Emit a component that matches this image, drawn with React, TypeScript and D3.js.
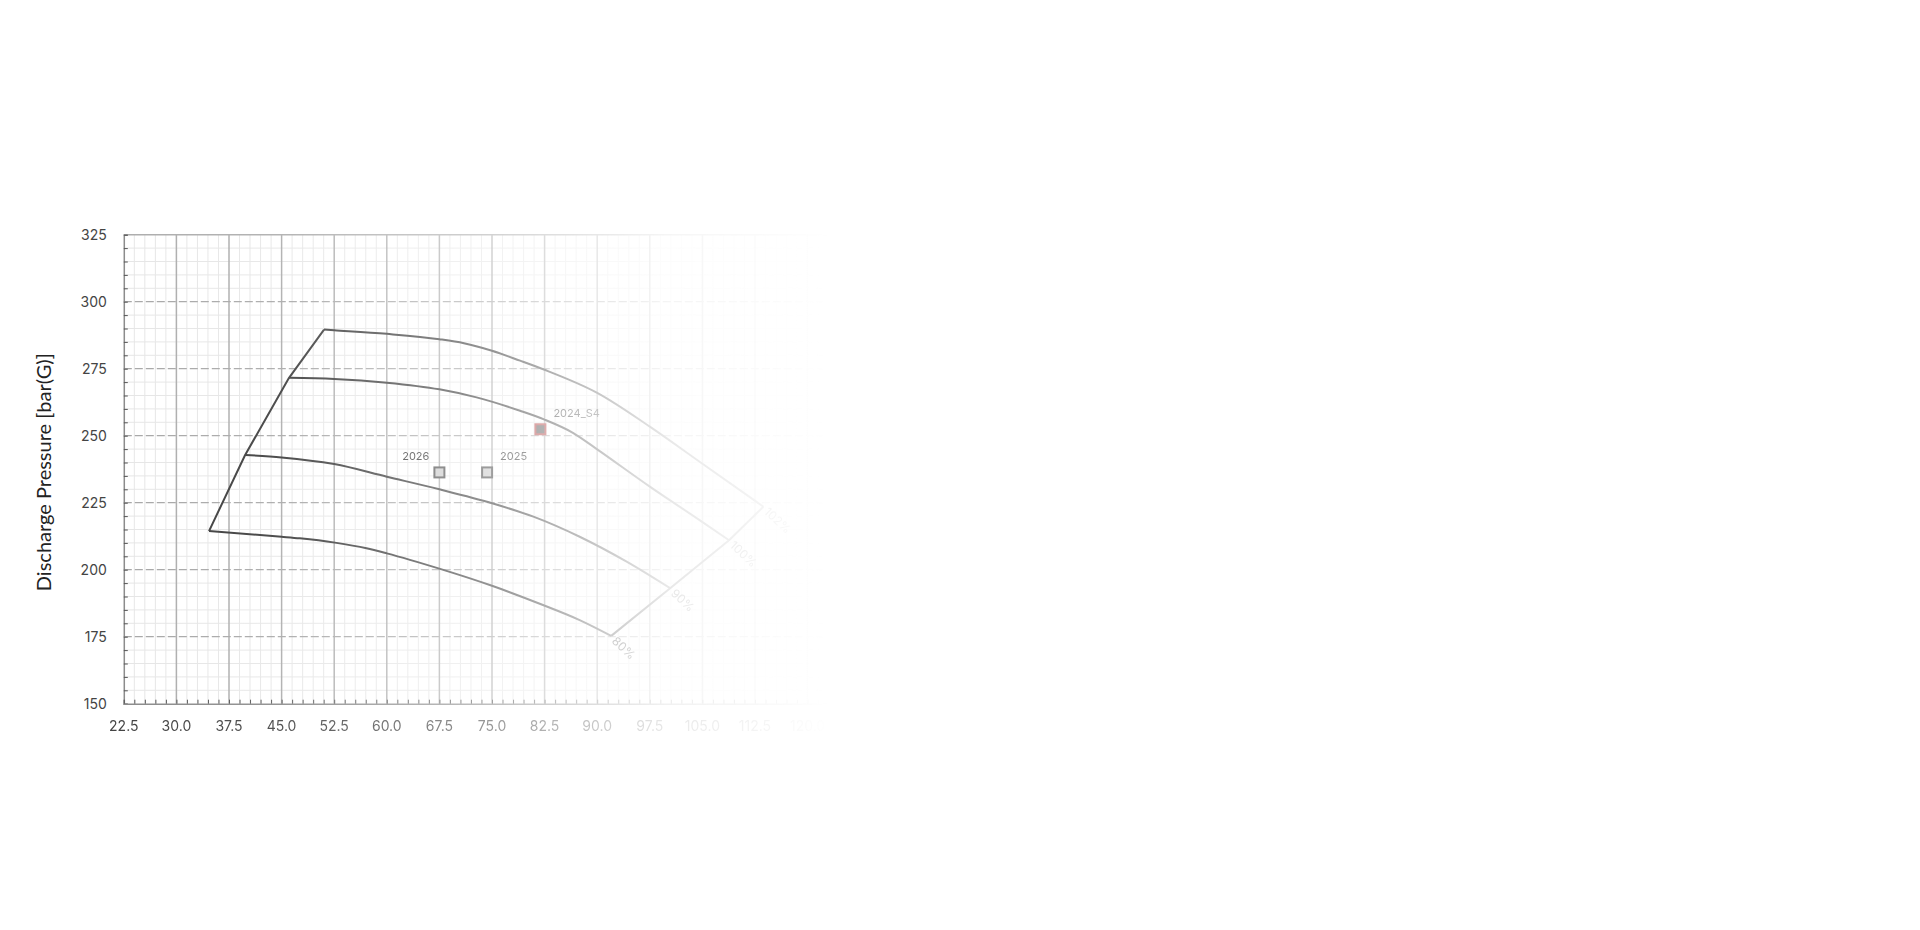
import { useEffect, useRef } from 'react';
import * as d3 from 'd3';

type Pt = [number, number];

// compressor map: flow vs discharge pressure, one line per speed
const SPEED_LABELS = ['80%', '90%', '100%', '102%'];

const SPEED_80: Pt[] = [
  [34.65, 214.4], [45, 212.3], [47.6, 211.7], [52.6, 210.1], [57.1, 208.0], [60, 206.1],
  [67.6, 200.3], [75.1, 193.9], [81.9, 187.2], [87.5, 181.2], [92, 175.3],
];
const SPEED_90: Pt[] = [
  [39.8, 242.8], [45, 241.9], [52.5, 239.4], [60, 234.7], [67.5, 230.0], [75, 224.8],
  [80.9, 219.8], [87.5, 212.3], [94.2, 203.0], [100.4, 193.1],
];
const SPEED_100: Pt[] = [
  [46.06, 271.6], [52.5, 271.2], [60, 269.8], [67.5, 267.3], [72.8, 264.3], [79, 259.3],
  [82.5, 256.0], [86.6, 251.0], [90, 244.9], [97.5, 231.0], [104.6, 218.5], [108.8, 211.0],
];
const SPEED_102: Pt[] = [
  [51.05, 289.6], [52.5, 289.35], [60, 288.0], [67.5, 286.0], [71, 284.5], [75, 281.7],
  [79, 278.0], [82.5, 274.6], [90, 266.0], [97.5, 253.4], [104.6, 240.3], [113.7, 223.5],
];
const SPEED_LINES = [SPEED_80, SPEED_90, SPEED_100, SPEED_102];

const POINT_NAMES = ['2026', '2025', '2024_S4'];
const POINT_FLOW = [67.5, 74.3, 81.9];
const POINT_PRESSURE = [236.3, 236.3, 252.4];

const X_TICKS = [22.5, 30, 37.5, 45, 52.5, 60, 67.5, 75, 82.5, 90, 97.5, 105, 112.5, 120, 127.5];
const Y_TICKS = [150, 175, 200, 225, 250, 275, 300, 325];

const POINT_STYLE: Record<string, { stroke: string; fill: string; side: 'left' | 'right' }> = {
  '2026': { stroke: '#4e4e4e', fill: '#cacaca', side: 'left' },
  '2025': { stroke: '#4e4e4e', fill: '#cacaca', side: 'right' },
  '2024_S4': { stroke: '#b03a3a', fill: '#4a4a4a', side: 'right' },
};

export default function App() {
  const svgRef = useRef<SVGSVGElement>(null);

  useEffect(() => {
    if (!svgRef.current) return;
    const svg = d3.select(svgRef.current);
    svg.selectAll('*').remove();

    const x = d3.scaleLinear().domain([22.5, 127.5]).range([123.8, 860.2]);
    const y = d3.scaleLinear().domain([150, 325]).range([703.7, 234.7]);
    const [x0, x1] = x.range();
    const [y0, y1] = y.range();

    const defs = svg.append('defs');
    const grad = defs.append('linearGradient')
      .attr('id', 'fade-grad')
      .attr('gradientUnits', 'userSpaceOnUse')
      .attr('x1', 124).attr('y1', 0).attr('x2', 830).attr('y2', 0);
    grad.selectAll('stop')
      .data([
        { o: 0, a: 1 }, { o: 0.224, a: 0.91 }, { o: 0.3725, a: 0.73 }, { o: 0.521, a: 0.55 },
        { o: 0.67, a: 0.29 }, { o: 0.769, a: 0.12 }, { o: 0.894, a: 0.06 }, { o: 1, a: 0 },
      ])
      .join('stop')
      .attr('offset', (d) => d.o)
      .attr('stop-color', '#fff')
      .attr('stop-opacity', (d) => d.a);
    defs.append('mask')
      .attr('id', 'fade-mask')
      .attr('maskUnits', 'userSpaceOnUse')
      .attr('x', 0).attr('y', 0).attr('width', 1920).attr('height', 930)
      .append('rect')
      .attr('width', 1920).attr('height', 930)
      .attr('fill', 'url(#fade-grad)');

    const g = svg.append('g').attr('mask', 'url(#fade-mask)');

    // minor grid
    const isMajorX = (v: number) => X_TICKS.some((t) => Math.abs(t - v) < 1e-6);
    const minorX = d3.range(22.5, 127.5 + 1e-6, 1.5).filter((v) => !isMajorX(v));
    const minorY = d3.range(150, 325, 5).filter((v) => v % 25 !== 0);

    g.append('g').selectAll('line').data(minorX).join('line')
      .attr('x1', (d) => x(d)).attr('x2', (d) => x(d))
      .attr('y1', y0).attr('y2', y1)
      .attr('stroke', '#e6e6e6').attr('stroke-width', 1);
    g.append('g').selectAll('line').data(minorY).join('line')
      .attr('x1', x0).attr('x2', x1)
      .attr('y1', (d) => y(d)).attr('y2', (d) => y(d))
      .attr('stroke', '#e6e6e6').attr('stroke-width', 1);

    // major grid
    g.append('g').selectAll('line').data(X_TICKS.slice(1)).join('line')
      .attr('x1', (d) => x(d)).attr('x2', (d) => x(d))
      .attr('y1', y0).attr('y2', y1)
      .attr('stroke', '#adadad').attr('stroke-width', 1.5);
    g.append('g').selectAll('line').data(Y_TICKS.slice(1, -1)).join('line')
      .attr('x1', x0).attr('x2', x1)
      .attr('y1', (d) => y(d)).attr('y2', (d) => y(d))
      .attr('stroke', '#a8a8a8').attr('stroke-width', 1.3)
      .attr('stroke-dasharray', '8 3');
    g.append('line')
      .attr('x1', x0).attr('x2', x1).attr('y1', y1).attr('y2', y1)
      .attr('stroke', '#adadad').attr('stroke-width', 1.5);

    // axes
    const yAxis = g.append('g')
      .attr('transform', `translate(${x0},0)`)
      .call(d3.axisRight(y).tickValues(d3.range(150, 326, 5)).tickSize(4).tickFormat(() => ''));
    const xAxis = g.append('g')
      .attr('transform', `translate(0,${y0})`)
      .call(d3.axisTop(x).tickValues(d3.range(22.5, 127.5 + 1e-6, 1.5)).tickSize(4).tickFormat(() => ''));
    [yAxis, xAxis].forEach((a) => {
      a.select('.domain').attr('stroke', '#8c8c8c').attr('stroke-width', 1.5);
      a.selectAll('.tick line').attr('stroke', '#555').attr('stroke-width', 1);
    });

    g.append('g').selectAll('text').data(X_TICKS).join('text')
      .attr('x', (d) => x(d))
      .attr('y', y0 + 22)
      .attr('text-anchor', 'middle')
      .attr('dominant-baseline', 'central')
      .attr('font-family', 'Inter, sans-serif')
      .attr('font-size', 14)
      .attr('fill', '#444')
      .text((d) => d.toFixed(1));

    svg.append('g').selectAll('text').data(Y_TICKS).join('text')
      .attr('x', x0 - 17)
      .attr('y', (d) => y(d))
      .attr('text-anchor', 'end')
      .attr('dominant-baseline', 'central')
      .attr('font-family', 'Inter, sans-serif')
      .attr('font-size', 14)
      .attr('fill', '#444')
      .text((d) => String(d));

    svg.append('text')
      .attr('transform', `translate(43,${(y0 + y1) / 2 + 3}) rotate(-90)`)
      .attr('text-anchor', 'middle')
      .attr('dominant-baseline', 'central')
      .attr('font-family', 'Lato, sans-serif')
      .attr('font-size', 20)
      .attr('fill', '#222')
      .text('Discharge Pressure [bar(G)]');

    // speed lines + surge / choke boundaries
    const smooth = d3.line<Pt>().x((d) => x(d[0])).y((d) => y(d[1])).curve(d3.curveMonotoneX);
    const straight = d3.line<Pt>().x((d) => x(d[0])).y((d) => y(d[1]));
    const lineColor = '#3d3d3d';
    SPEED_LINES.forEach((pts) => {
      g.append('path').datum(pts)
        .attr('fill', 'none').attr('stroke', lineColor).attr('stroke-width', 2)
        .attr('stroke-linejoin', 'round')
        .attr('d', smooth);
    });
    const surge = SPEED_LINES.map((pts) => pts[0]);
    const choke = SPEED_LINES.map((pts) => pts[pts.length - 1]);
    [surge, choke].forEach((pts) => {
      g.append('path').datum(pts)
        .attr('fill', 'none').attr('stroke', lineColor).attr('stroke-width', 2)
        .attr('stroke-linejoin', 'round')
        .attr('d', straight);
    });

    g.append('g').selectAll('text').data(choke).join('text')
      .attr('transform', (d) => `translate(${x(d[0])},${y(d[1])}) rotate(43)`)
      .attr('x', 4)
      .attr('dominant-baseline', 'central')
      .attr('font-family', 'Inter, sans-serif')
      .attr('font-size', 12)
      .attr('fill', '#333')
      .text((_d, i) => SPEED_LABELS[i]);

    // operating points
    const pts = POINT_NAMES.map((name, i) => ({ name, f: POINT_FLOW[i], p: POINT_PRESSURE[i] }));
    const pg = g.append('g');
    pg.selectAll('rect').data(pts).join('rect')
      .attr('x', (d) => x(d.f) - 5)
      .attr('y', (d) => y(d.p) - 5)
      .attr('width', 10).attr('height', 10)
      .attr('fill', (d) => POINT_STYLE[d.name].fill)
      .attr('stroke', (d) => POINT_STYLE[d.name].stroke)
      .attr('stroke-width', 2);
    pg.selectAll('text').data(pts).join('text')
      .attr('x', (d) => x(d.f) + (POINT_STYLE[d.name].side === 'left' ? -10 : 13))
      .attr('y', (d) => y(d.p) - 16.5)
      .attr('text-anchor', (d) => (POINT_STYLE[d.name].side === 'left' ? 'end' : 'start'))
      .attr('dominant-baseline', 'central')
      .attr('font-family', 'Inter, sans-serif')
      .attr('font-size', 11)
      .attr('fill', '#333')
      .text((d) => d.name);
  }, []);

  return (
    <div style={{ position: 'absolute', left: 0, top: 0 }}>
      <svg ref={svgRef} width={1920} height={930} style={{ display: 'block' }} />
    </div>
  );
}
